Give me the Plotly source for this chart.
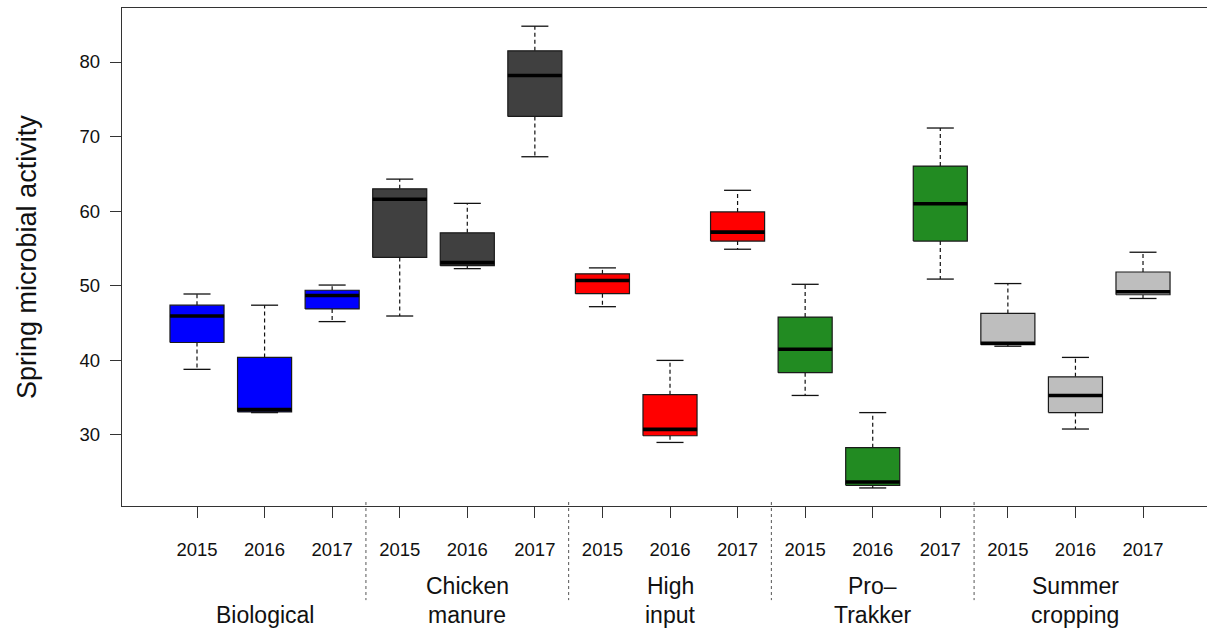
import plotly.graph_objects as go

# Treatments, sampling years and box statistics (one entry per box, in plotting order)
treatments = ["Biological", "Chicken\nmanure", "High\ninput", "Pro\u2013\nTrakker", "Summer\ncropping"]
years = ["2015", "2016", "2017"]
fill_colors = ["#0000FF", "#404040", "#FF0000", "#228B22", "#BEBEBE"]

whisker_low = [38.8, 33.0, 45.2, 45.95, 52.3, 67.3, 47.2, 29.0, 54.9, 35.3, 22.9, 50.9, 41.9, 30.8, 48.3]
q1 =          [42.4, 33.1, 46.9, 53.8, 52.7, 72.7, 48.95, 29.9, 56.0, 38.35, 23.25, 56.0, 42.1, 33.0, 48.8]
median =      [45.95, 33.4, 48.7, 61.6, 53.1, 78.2, 50.7, 30.75, 57.2, 41.5, 23.7, 61.0, 42.3, 35.3, 49.2]
q3 =          [47.4, 40.4, 49.4, 63.0, 57.1, 81.5, 51.6, 35.4, 59.9, 45.8, 28.3, 66.05, 46.3, 37.8, 51.85]
whisker_high = [48.9, 47.4, 50.1, 64.3, 61.05, 84.8, 52.4, 40.0, 62.8, 50.2, 33.0, 71.15, 50.3, 40.4, 54.5]

n_years = len(years)
n_boxes = len(treatments) * n_years
positions = list(range(1, n_boxes + 1))
box_half = 0.4     # boxwex 0.8
cap_half = 0.2     # staple width

fig = go.Figure()

# dashed whiskers
wx, wy = [], []
for i, p in enumerate(positions):
    wx += [p, p, None, p, p, None]
    wy += [q3[i], whisker_high[i], None, q1[i], whisker_low[i], None]
fig.add_trace(go.Scatter(x=wx, y=wy, mode="lines",
                         line=dict(color="#111111", width=1.2, dash="4px,3px"),
                         hoverinfo="skip", showlegend=False))

# whisker caps
cx, cy = [], []
for i, p in enumerate(positions):
    cx += [p - cap_half, p + cap_half, None, p - cap_half, p + cap_half, None]
    cy += [whisker_high[i], whisker_high[i], None, whisker_low[i], whisker_low[i], None]
fig.add_trace(go.Scatter(x=cx, y=cy, mode="lines",
                         line=dict(color="#111111", width=1.3),
                         hoverinfo="skip", showlegend=False))

# filled boxes, one trace per treatment
for g, color in enumerate(fill_colors):
    bx, by = [], []
    for k in range(n_years):
        i = g * n_years + k
        p = positions[i]
        bx += [p - box_half, p + box_half, p + box_half, p - box_half, p - box_half, None]
        by += [q1[i], q1[i], q3[i], q3[i], q1[i], None]
    fig.add_trace(go.Scatter(x=bx, y=by, mode="lines", fill="toself", fillcolor=color,
                             line=dict(color="#1a1a1a", width=1.2),
                             hoverinfo="skip", showlegend=False))

# thick median bars
mx, my = [], []
for i, p in enumerate(positions):
    mx += [p - box_half, p + box_half, None]
    my += [median[i], median[i], None]
fig.add_trace(go.Scatter(x=mx, y=my, mode="lines",
                         line=dict(color="#000000", width=3.6),
                         hoverinfo="skip", showlegend=False))

# dotted separators between treatment groups, reaching down into the label area
for g in range(1, len(treatments)):
    xs = g * n_years + 0.5
    fig.add_shape(type="line", xref="x", yref="paper", x0=xs, x1=xs, y0=0.008, y1=-0.189,
                  line=dict(color="#555555", width=1, dash="dot"))

# treatment labels, bottom lines aligned
line_gap = 0.058
for g, name in enumerate(treatments):
    lines = name.split("\n")
    center = positions[g * n_years + n_years // 2]
    for j, txt in enumerate(reversed(lines)):
        fig.add_annotation(x=center, y=-0.219 + j * line_gap, xref="x", yref="paper",
                           text=txt, showarrow=False, xanchor="center", yanchor="middle",
                           font=dict(size=23, color="#111111"))

fig.add_annotation(x=-0.0876, y=0.5, xref="paper", yref="paper",
                   text="Spring microbial activity", textangle=-90, showarrow=False,
                   xanchor="center", yanchor="middle",
                   font=dict(size=27, color="#111111"))

fig.update_layout(
    width=1207, height=633,
    margin=dict(l=122, r=0, t=8, b=127),
    paper_bgcolor="white", plot_bgcolor="white",
    font=dict(family="Liberation Sans, Arial, sans-serif", color="#111111"),
    showlegend=False,
    xaxis=dict(range=[-0.11, 15.947], tickmode="array", tickvals=positions,
               ticktext=years * len(treatments), ticks="outside", ticklen=11,
               tickcolor="#333333", tickwidth=1.2, tickfont=dict(size=18.5),
               ticklabelstandoff=16,
               showline=True, mirror=True, linecolor="#333333", linewidth=1.3,
               showgrid=False, zeroline=False),
    yaxis=dict(range=[20.48, 87.24], tickmode="array", tickvals=[30, 40, 50, 60, 70, 80],
               ticks="outside", ticklen=11, tickcolor="#333333", tickwidth=1.2,
               tickfont=dict(size=18.5), ticklabelstandoff=6,
               showline=True, linecolor="#333333", linewidth=1.3,
               showgrid=False, zeroline=False),
)

fig.write_html("out.html")
